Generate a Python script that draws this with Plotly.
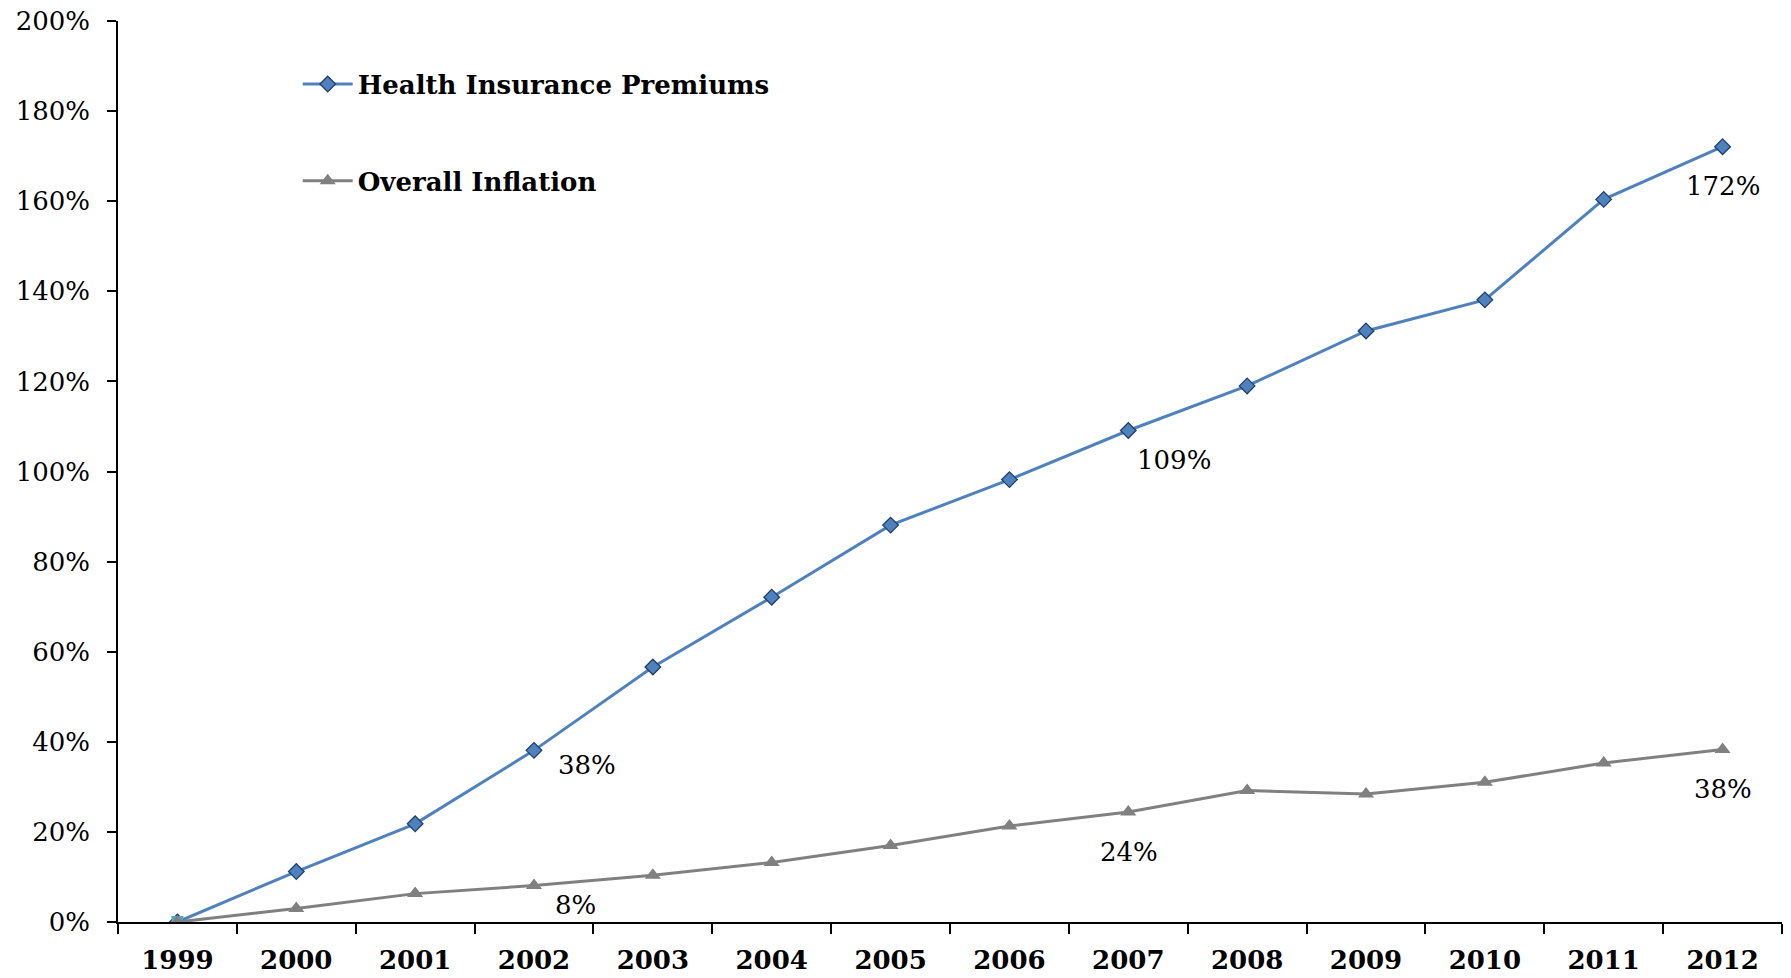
import plotly.graph_objects as go

years = ["1999", "2000", "2001", "2002", "2003", "2004", "2005", "2006",
         "2007", "2008", "2009", "2010", "2011", "2012"]
health = [0, 11.2, 21.8, 38.1, 56.6, 72.1, 88.1, 98.2, 109.1, 119.0, 131.2, 138.1, 160.4, 172.1]
inflation = [0, 3.0, 6.3, 8.1, 10.4, 13.2, 17.0, 21.3, 24.4, 29.2, 28.4, 31.0, 35.3, 38.3]

# data labels: (point index, text, xshift, yshift)
health_labels = [(3, "38%", 53, -15), (8, "109%", 46, -29), (13, "172%", 0, -39)]
infl_labels = [(3, "8%", 41, -19), (8, "24%", 1, -40), (13, "38%", 0, -40)]

BLUE = "#4f81bd"
GRAY = "#808080"
SERIF = "DejaVu Serif"

fig = go.Figure()
fig.add_trace(go.Scatter(
    x=years, y=health, mode="lines+markers", name="Health Insurance Premiums",
    line=dict(color=BLUE, width=3),
    marker=dict(symbol="diamond", size=12, color=BLUE, line=dict(color="#1f3f6a", width=1.3)),
    legendgroup="a",
))
fig.add_trace(go.Scatter(
    x=years[:1], y=health[:1], mode="markers", showlegend=False,
    marker=dict(symbol="square", size=12, color="#4bacc6"),
))
fig.add_trace(go.Scatter(
    x=years, y=inflation, mode="lines+markers", name="Overall Inflation",
    line=dict(color=GRAY, width=3),
    marker=dict(symbol="triangle-up", size=14, color=GRAY),
    legendgroup="b",
))

for i, t, dx, dy in health_labels:
    fig.add_annotation(x=i, y=health[i], xref="x", yref="y", text=t, showarrow=False,
                       xshift=dx, yshift=dy, font=dict(family=SERIF, size=26, color="black"))
for i, t, dx, dy in infl_labels:
    fig.add_annotation(x=i, y=inflation[i], xref="x", yref="y", text=t, showarrow=False,
                       xshift=dx, yshift=dy, font=dict(family=SERIF, size=26, color="black"))

fig.update_layout(
    width=1791, height=978,
    margin=dict(l=118, r=9, t=21, b=56, autoexpand=False),
    paper_bgcolor="white", plot_bgcolor="white",
    showlegend=True,
    legend=dict(x=0.108, y=0.956, xanchor="left", yanchor="top",
                font=dict(family=SERIF, size=26, color="black", weight="bold"),
                tracegroupgap=60, bgcolor="rgba(0,0,0,0)", itemwidth=50),
    xaxis=dict(type="category", range=[-0.5, 13.5], showline=True, linecolor="black",
               linewidth=1.5, ticks="outside", tickson="boundaries", ticklen=10,
               tickcolor="black", tickwidth=1.5, showgrid=False, zeroline=False,
               ticklabelstandoff=14, automargin=False,
               tickfont=dict(family=SERIF, size=26, color="black", weight="bold")),
    yaxis=dict(range=[0, 200], dtick=20, ticksuffix="%", showline=True, linecolor="black",
               linewidth=1.5, ticks="outside", ticklen=9, tickcolor="black", tickwidth=1.5,
               showgrid=False, zeroline=False, ticklabeloverflow="allow",
               ticklabelstandoff=12, automargin=False,
               tickfont=dict(family=SERIF, size=26, color="black")),
)

fig.write_html("out.html", config={"displayModeBar": False},
               post_script="document.body.style.margin='0';document.body.style.overflow='hidden';")
